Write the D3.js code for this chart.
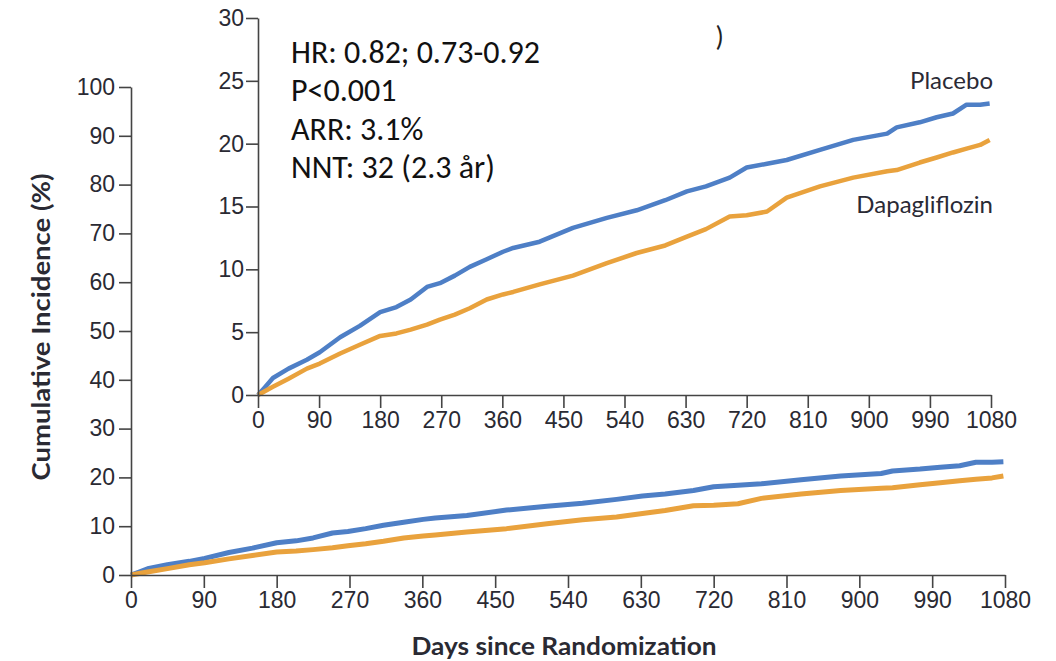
<!DOCTYPE html>
<html>
<head>
<meta charset="utf-8">
<script src="https://cdn.jsdelivr.net/npm/d3@7"></script>
<style>
  html, body { margin: 0; padding: 0; background: #fff; }
  svg { display: block; }
  .tick text { font-family: "Liberation Sans", "DejaVu Sans", sans-serif; fill: #2a2a33; }
  .domain, .tick line { stroke: #444; }
</style>
</head>
<body>
<svg id="chart" width="1056" height="661"></svg>
<script>
// Follow-up days at which the cumulative incidence was read
const days = [0, 10, 22, 45, 72, 91, 121, 150, 180, 204, 225, 249, 268, 290, 312, 337, 361, 376, 415,
  464, 514, 558, 600, 632, 660, 695, 720, 750, 779, 828, 877, 927, 941, 975, 1000, 1024, 1044, 1064, 1078];

// Cumulative incidence (%) per arm
const placebo = [0, 0.6, 1.35, 2.1, 2.8, 3.4, 4.6, 5.5, 6.6, 7.0, 7.6, 8.6, 8.9, 9.5, 10.2, 10.8, 11.4, 11.7, 12.2,
  13.3, 14.1, 14.7, 15.5, 16.2, 16.6, 17.3, 18.1, 18.4, 18.7, 19.5, 20.3, 20.8, 21.3, 21.7, 22.1, 22.4, 23.1, 23.1, 23.2];
const dapagliflozin = [0, 0.3, 0.65, 1.3, 2.1, 2.5, 3.3, 4.0, 4.7, 4.9, 5.2, 5.6, 6.0, 6.4, 6.9, 7.6, 8.0, 8.2, 8.8,
  9.5, 10.5, 11.3, 11.9, 12.6, 13.2, 14.2, 14.3, 14.6, 15.7, 16.6, 17.3, 17.8, 17.9, 18.5, 18.9, 19.3, 19.6, 19.9, 20.3];

const seriesNames = ["Placebo", "Dapagliflozin"];
const seriesColors = ["#4e7fc6", "#e9a23d"];

const xTicks = [0, 90, 180, 270, 360, 450, 540, 630, 720, 810, 900, 990, 1080];
const mainYTicks = [0, 10, 20, 30, 40, 50, 60, 70, 80, 90, 100];
const insetYTicks = [0, 5, 10, 15, 20, 25, 30];

const statLines = ["HR: 0.82; 0.73-0.92", "P<0.001", "ARR: 3.1%", "NNT: 32 (2.3 år)"];

const svg = d3.select("#chart");
const series = [placebo, dapagliflozin].map((vals, i) => ({
  name: seriesNames[i], color: seriesColors[i],
  points: days.map((d, j) => [d, vals[j]])
}));
const fmt = d3.format("d");

function styleAxis(g) {
  g.selectAll("text").attr("font-size", 23);
  g.select(".domain").attr("stroke-width", 1.6);
  g.selectAll(".tick line").attr("stroke-width", 1.6);
}

// ---------- main panel: 0–100 % ----------
const x = d3.scaleLinear().domain([0, 1080]).range([131, 1005]);
const y = d3.scaleLinear().domain([0, 100]).range([575, 87]);

const lineMain = d3.line().x(d => x(d[0])).y(d => y(d[1]));
svg.append("g").selectAll("path").data(series).join("path")
  .attr("d", s => lineMain(s.points))
  .attr("fill", "none").attr("stroke", s => s.color)
  .attr("stroke-width", 5).attr("stroke-linejoin", "round");

svg.append("g").attr("transform", `translate(0,${y(0)})`)
  .call(d3.axisBottom(x).tickValues(xTicks).tickFormat(fmt).tickSize(13).tickPadding(4).tickSizeOuter(0))
  .call(styleAxis);
svg.append("g").attr("transform", `translate(${x(0)},0)`)
  .call(d3.axisLeft(y).tickValues(mainYTicks).tickFormat(fmt).tickSize(12).tickPadding(4).tickSizeOuter(0))
  .call(styleAxis);

svg.append("text")
  .attr("transform", "translate(50,327) rotate(-90)")
  .attr("text-anchor", "middle")
  .attr("font-family", "Lato, 'Open Sans', sans-serif")
  .attr("font-weight", "bold").attr("font-size", 24).attr("fill", "#2a2a33")
  .attr("textLength", 307).attr("lengthAdjust", "spacingAndGlyphs")
  .text("Cumulative Incidence (%)");

svg.append("text")
  .attr("x", 564).attr("y", 655)
  .attr("text-anchor", "middle")
  .attr("font-family", "Lato, 'Open Sans', sans-serif")
  .attr("font-weight", "bold").attr("font-size", 24).attr("fill", "#2a2a33")
  .attr("textLength", 305).attr("lengthAdjust", "spacingAndGlyphs")
  .text("Days since Randomization");

// ---------- inset: 0–30 % ----------
const xi = d3.scaleLinear().domain([0, 1080]).range([258, 991]);
const yi = d3.scaleLinear().domain([0, 30]).range([395, 18]);

const lineInset = d3.line().x(d => xi(d[0])).y(d => yi(d[1]));
svg.append("g").selectAll("path").data(series).join("path")
  .attr("d", s => lineInset(s.points))
  .attr("fill", "none").attr("stroke", s => s.color)
  .attr("stroke-width", 4.5).attr("stroke-linejoin", "round");

svg.append("g").attr("transform", `translate(0,${yi(0)})`)
  .call(d3.axisBottom(xi).tickValues(xTicks).tickFormat(fmt).tickSize(13).tickPadding(4).tickSizeOuter(0))
  .call(styleAxis);
svg.append("g").attr("transform", `translate(${xi(0)},0)`)
  .call(d3.axisLeft(yi).tickValues(insetYTicks).tickFormat(fmt).tickSize(12).tickPadding(2).tickSizeOuter(0))
  .call(styleAxis);

// series labels at the right end of the inset
const labelY = [89, 213];
svg.append("g").selectAll("text").data(series).join("text")
  .attr("x", 993).attr("y", (s, i) => labelY[i])
  .attr("text-anchor", "end")
  .attr("font-family", "Lato, 'Open Sans', sans-serif")
  .attr("font-size", 24).attr("fill", "#2a2a35")
  .text(s => s.name);

// trial statistics
svg.append("g").selectAll("text").data(statLines).join("text")
  .attr("x", 291).attr("y", (d, i) => 63 + i * 38.3)
  .attr("font-family", "Carlito, Lato, 'Open Sans', sans-serif")
  .attr("font-size", 32).attr("fill", "#111")
  .text(d => d);

svg.append("text")
  .attr("x", 716).attr("y", 46)
  .attr("font-family", "Lato, sans-serif").attr("font-size", 26).attr("fill", "#222")
  .text(")");
</script>
</body>
</html>
